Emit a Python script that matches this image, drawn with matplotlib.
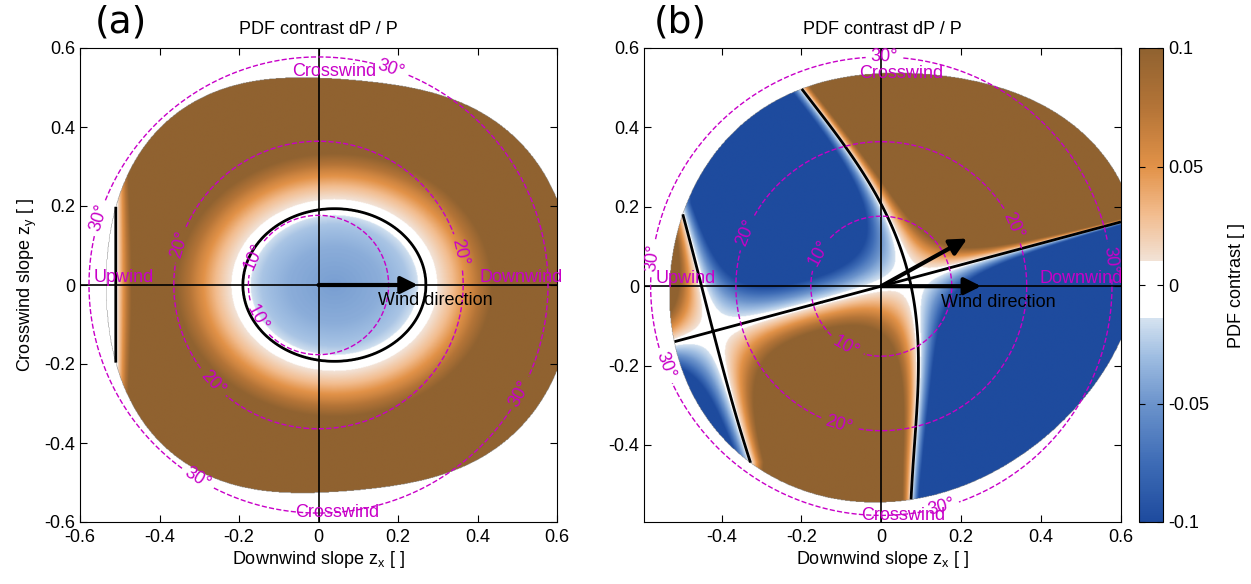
import numpy as np
import matplotlib
matplotlib.use("Agg")
import matplotlib.pyplot as plt
from matplotlib.colors import ListedColormap, Normalize

plt.rcParams["font.family"] = ["Liberation Sans", "DejaVu Sans"]
plt.rcParams["mathtext.fontset"] = "custom"
plt.rcParams["mathtext.rm"] = "Liberation Sans"
plt.rcParams["axes.unicode_minus"] = False
plt.rcParams["font.size"] = 13

# colour scale
cbar_ticks = [-0.1, -0.05, 0, 0.05, 0.1]
cbar_ticklabels = ["-0.1", "-0.05", "0", "0.05", "0.1"]
cmap_v = [-0.1, -0.075, -0.05, -0.03, -0.0146, 0.0104, 0.03, 0.05, 0.075, 0.1]
cmap_rgb = [(30, 75, 158), (62, 108, 182), (108, 148, 204), (160, 190, 226),
            (212, 226, 240), (242, 226, 214), (242, 188, 142), (226, 146, 72),
            (180, 116, 55), (144, 98, 48)]
white_band = (-0.0145, 0.0103)

# panel (a): zero contour (ellipse) and contrast profile against normalised radius
a_centre = (0.04, 0.0)
a_semi = (0.23, 0.193)
a_rho = [0.0, 0.5, 0.8, 0.9, 1.0, 1.15, 1.3, 1.5, 1.73, 2.2, 3.0]
a_val = [-0.045, -0.038, -0.027, -0.017, 0.0, 0.012, 0.03, 0.06, 0.1, 0.2, 0.3]
a_left_x = [-0.53, -0.51, -0.43]
a_left_fac = [-0.05, 0.0, 1.0]
a_edge_x = [-0.535, -0.51, -0.51, -0.45, -0.45, -0.37, -0.37, -0.26, -0.26,
            -0.13, -0.13, 0.03, 0.03, 0.18, 0.18, 0.34, 0.34, 0.49, 0.49, 0.59, 0.59,
            0.63]
a_edge_y = [0.0, 0.2, -0.2, 0.33, -0.33, 0.43, -0.43, 0.49, -0.49,
            0.518, -0.518, 0.524, -0.527, 0.515, -0.515, 0.463, -0.463, 0.375, -0.375,
            0.266, -0.266, 0.0]
a_arrow_dx = [0.25]
a_arrow_dy = [0.0]

# panel (b): the three zero lines of the contrast
b_line_slope = 0.27
b_s_y = [-0.54, -0.46, -0.30, -0.165, 0.0, 0.046, 0.13, 0.21, 0.258, 0.30, 0.342, 0.50]
b_s_x = [0.075, 0.078, 0.087, 0.10, 0.07, 0.062, 0.028, 0.003, -0.018, -0.05, -0.0975, -0.20]
b_l_y = [-0.443, -0.39, -0.24, -0.114, 0.0, 0.114, 0.21]
b_l_x = [-0.335, -0.335, -0.385, -0.43, -0.452, -0.468, -0.51]
b_gain = 22.0
b_edge_x = [-0.52, -0.50, -0.355, -0.205, -0.03, 0.18, 0.345, 0.47, 0.595,
            0.64, 0.595, 0.47, 0.30, 0.095, 0.01, -0.335, -0.52]
b_edge_y = [0.0, 0.22, 0.385, 0.50, 0.537, 0.527, 0.486, 0.40, 0.30,
            0.08, -0.147, -0.324, -0.46, -0.537, -0.54, -0.443, -0.145]
b_arrow_dx = [0.25, 0.215]
b_arrow_dy = [0.0, 0.12]

# slope angle circles and their labels
slope_levels = [10, 20, 30]
a_label_pos = [(-0.155, 0.068), (-0.155, -0.083), (-0.34, 0.10), (-0.27, -0.25),
               (0.34, 0.08), (-0.537, 0.165), (-0.31, -0.5), (0.50, -0.27), (0.18, 0.54)]
b_label_pos = [(-0.15, 0.08), (-0.09, -0.157), (-0.325, 0.13), (-0.11, -0.36),
               (0.32, 0.147), (-0.56, 0.07), (-0.54, -0.2), (0.56, 0.063),
               (0.008, 0.575), (0.15, -0.56)]
a_words = [("Crosswind", 0.04, 0.54), ("Crosswind", 0.047, -0.577),
           ("Upwind", -0.49, 0.02), ("Downwind", 0.51, 0.02)]
b_words = [("Crosswind", 0.05, 0.537), ("Crosswind", 0.055, -0.577),
           ("Upwind", -0.49, 0.02), ("Downwind", 0.50, 0.02)]

MAGENTA = "#c800c8"

# colormap
lev = np.linspace(-0.1, 0.1, 256)
rgb = np.array(cmap_rgb) / 255.0
cols = np.column_stack([np.interp(lev, cmap_v, rgb[:, i]) for i in range(3)])
cols[(lev > white_band[0]) & (lev < white_band[1])] = 1.0
cmap = ListedColormap(cols)
norm = Normalize(-0.1, 0.1)

g = np.linspace(-0.6, 0.6, 801)
X, Y = np.meshgrid(g, g)


def outside(ex, ey, cx=0.03, nharm=4):
    # smooth closed edge through the points (Fourier r(phi))
    ex, ey = np.asarray(ex) - cx, np.asarray(ey)
    phi = np.arctan2(ey, ex)
    r = np.hypot(ex, ey)

    def basis(p):
        cols_ = [np.ones_like(p)]
        for k in range(1, nharm + 1):
            cols_ += [np.cos(k * p), np.sin(k * p)]
        return np.stack(cols_, axis=-1)

    coef = np.linalg.lstsq(basis(phi), r, rcond=None)[0]
    r_edge = basis(np.arctan2(Y, X - cx)) @ coef
    return np.hypot(X - cx, Y) > r_edge


rho = np.hypot((X - a_centre[0]) / a_semi[0], (Y - a_centre[1]) / a_semi[1])
field_a = np.interp(rho, a_rho, a_val) * np.interp(X, a_left_x, a_left_fac)
field_a = np.ma.array(field_a, mask=outside(a_edge_x, a_edge_y, cx=0.05, nharm=4))

s_fit = np.polyfit(b_s_y, b_s_x, 5)
l_fit = np.polyfit(b_l_y, b_l_x, 3)
s_curve = np.polyval(s_fit, np.clip(Y, min(b_s_y), max(b_s_y)))
l_curve = np.polyval(l_fit, np.clip(Y, min(b_l_y), max(b_l_y)))
field_b = b_gain * (Y - b_line_slope * X) * (X - s_curve) * (X - l_curve)
field_b = np.ma.array(field_b, mask=outside(b_edge_x, b_edge_y))

theta = np.degrees(np.arctan(np.hypot(X, Y)))

fig = plt.figure(figsize=(12.51, 5.84), dpi=100)
ax_a = fig.add_axes([80 / 1251, 62 / 584, 477 / 1251, 474 / 584])
ax_b = fig.add_axes([644 / 1251, 62 / 584, 477 / 1251, 474 / 584])
cax = fig.add_axes([1139 / 1251, 62 / 584, 24 / 1251, 474 / 584])


def draw_panel(ax, field, label_pos, words, adx, ady, ticks, lim):
    im = ax.imshow(field, cmap=cmap, norm=norm, extent=[-0.6, 0.6, -0.6, 0.6],
                   origin="lower", interpolation="bilinear", aspect="auto", zorder=0)
    ax.contour(X, Y, field, levels=[0], colors="k", linewidths=2, zorder=2)
    ax.axhline(0, color="k", lw=1.2, zorder=2)
    ax.axvline(0, color="k", lw=1.2, zorder=2)
    cs = ax.contour(X, Y, theta, levels=slope_levels, colors=MAGENTA,
                    linestyles="--", linewidths=1, zorder=3)
    ax.clabel(cs, manual=label_pos, inline=True, fontsize=13, colors=MAGENTA,
              fmt=lambda v: f"{v:.0f}°")
    for txt, x, y in words:
        ax.text(x, y, txt, color=MAGENTA, fontsize=13, ha="center", va="center",
                zorder=5, clip_on=False)
    for dx, dy in zip(adx, ady):
        ax.annotate("", xy=(dx, dy), xytext=(0, 0),
                    arrowprops=dict(arrowstyle="-|>", lw=3, color="k",
                                    mutation_scale=25, shrinkA=0, shrinkB=0),
                    zorder=4)
    ax.text(0.15, -0.04, "Wind direction", fontsize=13, ha="left", va="center", zorder=5)
    ax.set_xticks(ticks)
    ax.set_yticks(ticks)
    ax.set_xticklabels([f"{t:g}" for t in ticks])
    ax.set_yticklabels([f"{t:g}" for t in ticks])
    ax.set_xlim(lim, 0.6)
    ax.set_ylim(lim, 0.6)
    ax.tick_params(direction="in", top=True, right=True, length=5, labelsize=13)
    ax.tick_params(axis="x", pad=5)
    ax.set_title("PDF contrast dP / P", fontsize=13, pad=10)
    ax.set_xlabel(r"Downwind slope z$_\mathregular{x}$ [ ]", fontsize=13, labelpad=2)
    return im


im = draw_panel(ax_a, field_a, a_label_pos, a_words, a_arrow_dx, a_arrow_dy,
                [-0.6, -0.4, -0.2, 0, 0.2, 0.4, 0.6], -0.6)
draw_panel(ax_b, field_b, b_label_pos, b_words, b_arrow_dx, b_arrow_dy,
           [-0.4, -0.2, 0, 0.2, 0.4, 0.6], -0.594)
ax_a.set_ylabel(r"Crosswind slope z$_\mathregular{y}$ [ ]", fontsize=13)

cb = fig.colorbar(im, cax=cax, ticks=cbar_ticks)
cb.set_ticklabels(cbar_ticklabels)
cax.tick_params(direction="in", left=True, right=True, length=4, labelsize=13)
cb.set_label("PDF contrast [ ]", fontsize=13, labelpad=14)

fig.text(121 / 1251, 1 - 22 / 584, "(a)", fontsize=27, family="DejaVu Sans",
         ha="center", va="center")
fig.text(680 / 1251, 1 - 22 / 584, "(b)", fontsize=27, family="DejaVu Sans",
         ha="center", va="center")

fig.savefig("out.png", dpi=100)
